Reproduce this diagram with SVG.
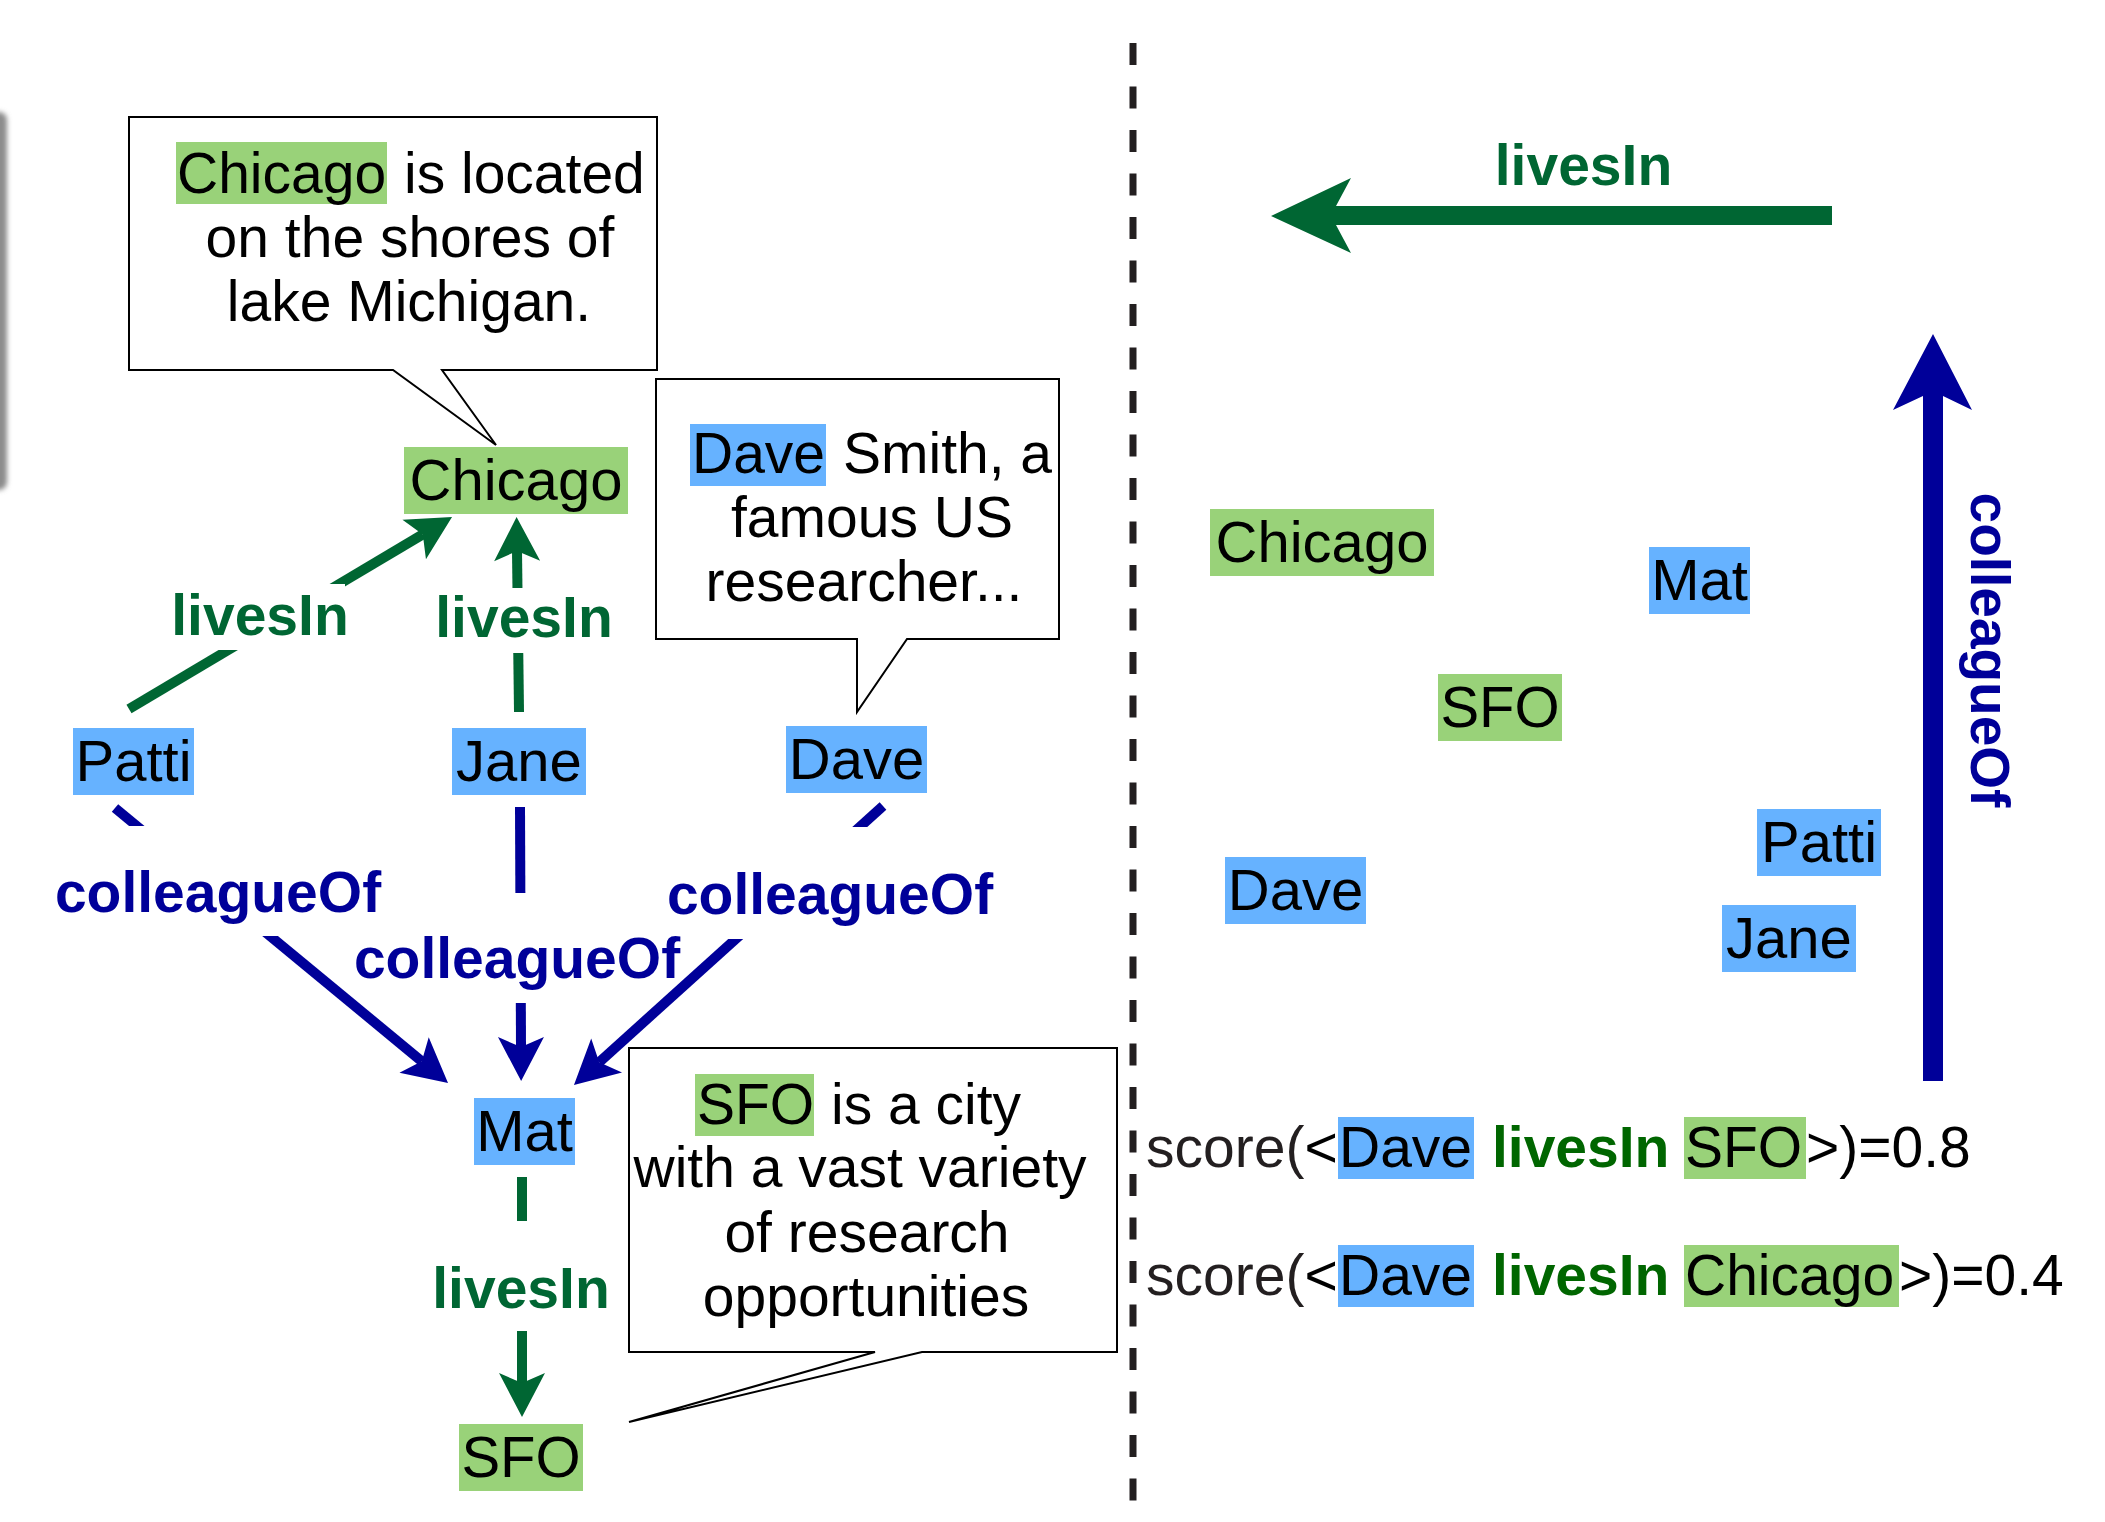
<svg xmlns="http://www.w3.org/2000/svg" width="2105" height="1522" viewBox="0 0 2105 1522">
<defs>
<style>
text{font-family:"Liberation Sans",Arial,Helvetica,sans-serif;}
.t{font-size:57px;fill:#000;}
.n{font-size:58px;fill:#000;text-anchor:middle;}
.lbG{font-size:57px;font-weight:bold;fill:#006633;text-anchor:middle;}
.lbB{font-size:57px;font-weight:bold;fill:#000099;text-anchor:middle;}
.hg{fill:#99D279;}
.hb{fill:#66B2FF;}
.box{fill:#fff;stroke:#000;stroke-width:2;stroke-linejoin:miter;}
.eG{fill:none;stroke:#006633;stroke-width:10;}
.eB{fill:none;stroke:#000099;stroke-width:10;}
.bg{fill:#fff;}
</style>
<marker id="ahG" markerUnits="userSpaceOnUse" markerWidth="48" markerHeight="50" viewBox="-12 -25 48 50" refX="0" refY="0" orient="auto" overflow="visible"><path d="M34,0 L-10,-23 L0,0 L-10,23 Z" fill="#006633"/></marker>
<marker id="ahB" markerUnits="userSpaceOnUse" markerWidth="48" markerHeight="50" viewBox="-12 -25 48 50" refX="0" refY="0" orient="auto" overflow="visible"><path d="M34,0 L-10,-23 L0,0 L-10,23 Z" fill="#000099"/></marker>
<filter id="blur" x="-2" y="-0.2" width="5" height="1.4"><feGaussianBlur stdDeviation="2.5"/></filter>
</defs>
<rect width="2105" height="1522" fill="#fff"/>
<rect x="-20" y="112" width="27" height="378" rx="8" fill="#8c8c8c" filter="url(#blur)"/>

<!-- divider -->
<line id="divider" x1="1133" y1="43" x2="1133" y2="1540" stroke="#231f20" stroke-width="7" stroke-dasharray="22 21.5"/>

<!-- connectors -->
<g id="connectors">
<line class="eG" x1="129" y1="709" x2="422.8" y2="534.4" marker-end="url(#ahG)"/>
<line class="eG" x1="519" y1="712" x2="517" y2="551" marker-end="url(#ahG)"/>
<line class="eG" x1="522" y1="1177" x2="522" y2="1383" marker-end="url(#ahG)"/>
<line class="eB" x1="115" y1="808" x2="421.8" y2="1061.3" marker-end="url(#ahB)"/>
<line class="eB" x1="520" y1="807" x2="521" y2="1047" marker-end="url(#ahB)"/>
<line class="eB" x1="883" y1="806" x2="599.2" y2="1062.2" marker-end="url(#ahB)"/>
</g>

<!-- edge labels -->
<g id="edge-labels">
<rect class="bg" x="215" y="584" width="130" height="66"/>
<text class="lbG" x="260" y="635">livesIn</text>
<rect class="bg" x="500" y="588" width="40" height="65"/>
<text class="lbG" x="524" y="637">livesIn</text>
<rect class="bg" x="500" y="1221" width="45" height="110"/>
<text class="lbG" x="521" y="1308">livesIn</text>
<rect class="bg" x="115" y="826" width="170" height="110"/>
<text class="lbB" x="218" y="912">colleagueOf</text>
<rect class="bg" x="500" y="893" width="40" height="110"/>
<text class="lbB" x="517" y="978">colleagueOf</text>
<rect class="bg" x="725" y="827" width="150" height="112"/>
<text class="lbB" x="830" y="914">colleagueOf</text>
</g>

<!-- callouts -->
<g id="callout-chicago">
<path class="box" d="M129,117 H657 V370 H442 L496,445 L393,370 H129 Z"/>
<rect class="hg" x="176" y="142" width="211" height="62"/>
<text class="t" y="193"><tspan x="177">Chicago</tspan><tspan x="404">is located</tspan></text>
<text class="t" x="410" y="257" text-anchor="middle">on the shores of</text>
<text class="t" x="409" y="321" text-anchor="middle">lake Michigan.</text>
</g>
<g id="callout-dave">
<path class="box" d="M656,379 H1059 V639 H907 L857,712 V639 H656 Z"/>
<rect class="hb" x="690" y="424" width="136" height="62"/>
<text class="t" y="473"><tspan x="692">Dave</tspan><tspan x="843">Smith, a</tspan></text>
<text class="t" x="872" y="537" text-anchor="middle">famous US</text>
<text class="t" x="864" y="601" text-anchor="middle">researcher...</text>
</g>
<g id="callout-sfo">
<path class="box" d="M629,1048 H1117 V1352 H922 L629,1422 L875,1352 H629 Z"/>
<rect class="hg" x="695" y="1074" width="119" height="62"/>
<text class="t" y="1124"><tspan x="697">SFO</tspan><tspan x="831">is a city</tspan></text>
<text class="t" x="860" y="1187" text-anchor="middle">with a vast variety</text>
<text class="t" x="867" y="1252" text-anchor="middle">of research</text>
<text class="t" x="866" y="1316" text-anchor="middle">opportunities</text>
</g>

<!-- graph nodes -->
<g id="node-chicago"><rect class="hg" x="404" y="447" width="224" height="67"/><text class="n" x="516" y="500">Chicago</text></g>
<g id="node-patti"><rect class="hb" x="73" y="728" width="121" height="67"/><text class="n" x="133.5" y="781">Patti</text></g>
<g id="node-jane"><rect class="hb" x="452" y="728" width="134" height="67"/><text class="n" x="519" y="781">Jane</text></g>
<g id="node-dave"><rect class="hb" x="786" y="726" width="141" height="67"/><text class="n" x="856.5" y="779">Dave</text></g>
<g id="node-mat"><rect class="hb" x="474" y="1098" width="101" height="67"/><text class="n" x="524.5" y="1151">Mat</text></g>
<g id="node-sfo"><rect class="hg" x="459" y="1424" width="124" height="67"/><text class="n" x="521" y="1477">SFO</text></g>

<!-- embedding space -->
<g id="emb-axes">
<path d="M1832,206 L1336,206 L1351,178 L1271,216 L1351,253 L1336,225 L1832,225 Z" fill="#006633"/>
<text class="lbG" x="1583.5" y="185">livesIn</text>
<path d="M1923,1081 L1923,396 L1893,410 L1933,334 L1972,410 L1943,396 L1943,1081 Z" fill="#000099"/>
<text class="lbB" x="0" y="0" style="font-size:55px" transform="translate(1971,650) rotate(90)">colleagueOf</text>
</g>
<g id="emb-chicago"><rect class="hg" x="1210" y="509" width="224" height="67"/><text class="n" x="1322" y="562">Chicago</text></g>
<g id="emb-mat"><rect class="hb" x="1649" y="547" width="101" height="67"/><text class="n" x="1699.5" y="600">Mat</text></g>
<g id="emb-sfo"><rect class="hg" x="1438" y="674" width="124" height="67"/><text class="n" x="1500" y="727">SFO</text></g>
<g id="emb-patti"><rect class="hb" x="1757" y="809" width="124" height="67"/><text class="n" x="1819" y="862">Patti</text></g>
<g id="emb-dave"><rect class="hb" x="1225" y="857" width="141" height="67"/><text class="n" x="1295.5" y="910">Dave</text></g>
<g id="emb-jane"><rect class="hb" x="1722" y="905" width="134" height="67"/><text class="n" x="1789" y="958">Jane</text></g>

<!-- scores -->
<g id="score-1">
<rect class="hb" x="1338" y="1117" width="136" height="62"/>
<rect class="hg" x="1684" y="1117" width="122" height="62"/>
<text class="t" y="1167"><tspan x="1146" fill="#231f20">score(</tspan><tspan>&lt;</tspan><tspan x="1339">Dave</tspan><tspan x="1492" font-weight="bold" fill="#006600">livesIn</tspan><tspan x="1685">SFO</tspan><tspan x="1806">&gt;)=0.8</tspan></text>
</g>
<g id="score-2">
<rect class="hb" x="1338" y="1245" width="136" height="62"/>
<rect class="hg" x="1684" y="1245" width="215" height="62"/>
<text class="t" y="1295"><tspan x="1146" fill="#231f20">score(</tspan><tspan>&lt;</tspan><tspan x="1339">Dave</tspan><tspan x="1492" font-weight="bold" fill="#006600">livesIn</tspan><tspan x="1685">Chicago</tspan><tspan x="1899">&gt;)=0.4</tspan></text>
</g>
</svg>
